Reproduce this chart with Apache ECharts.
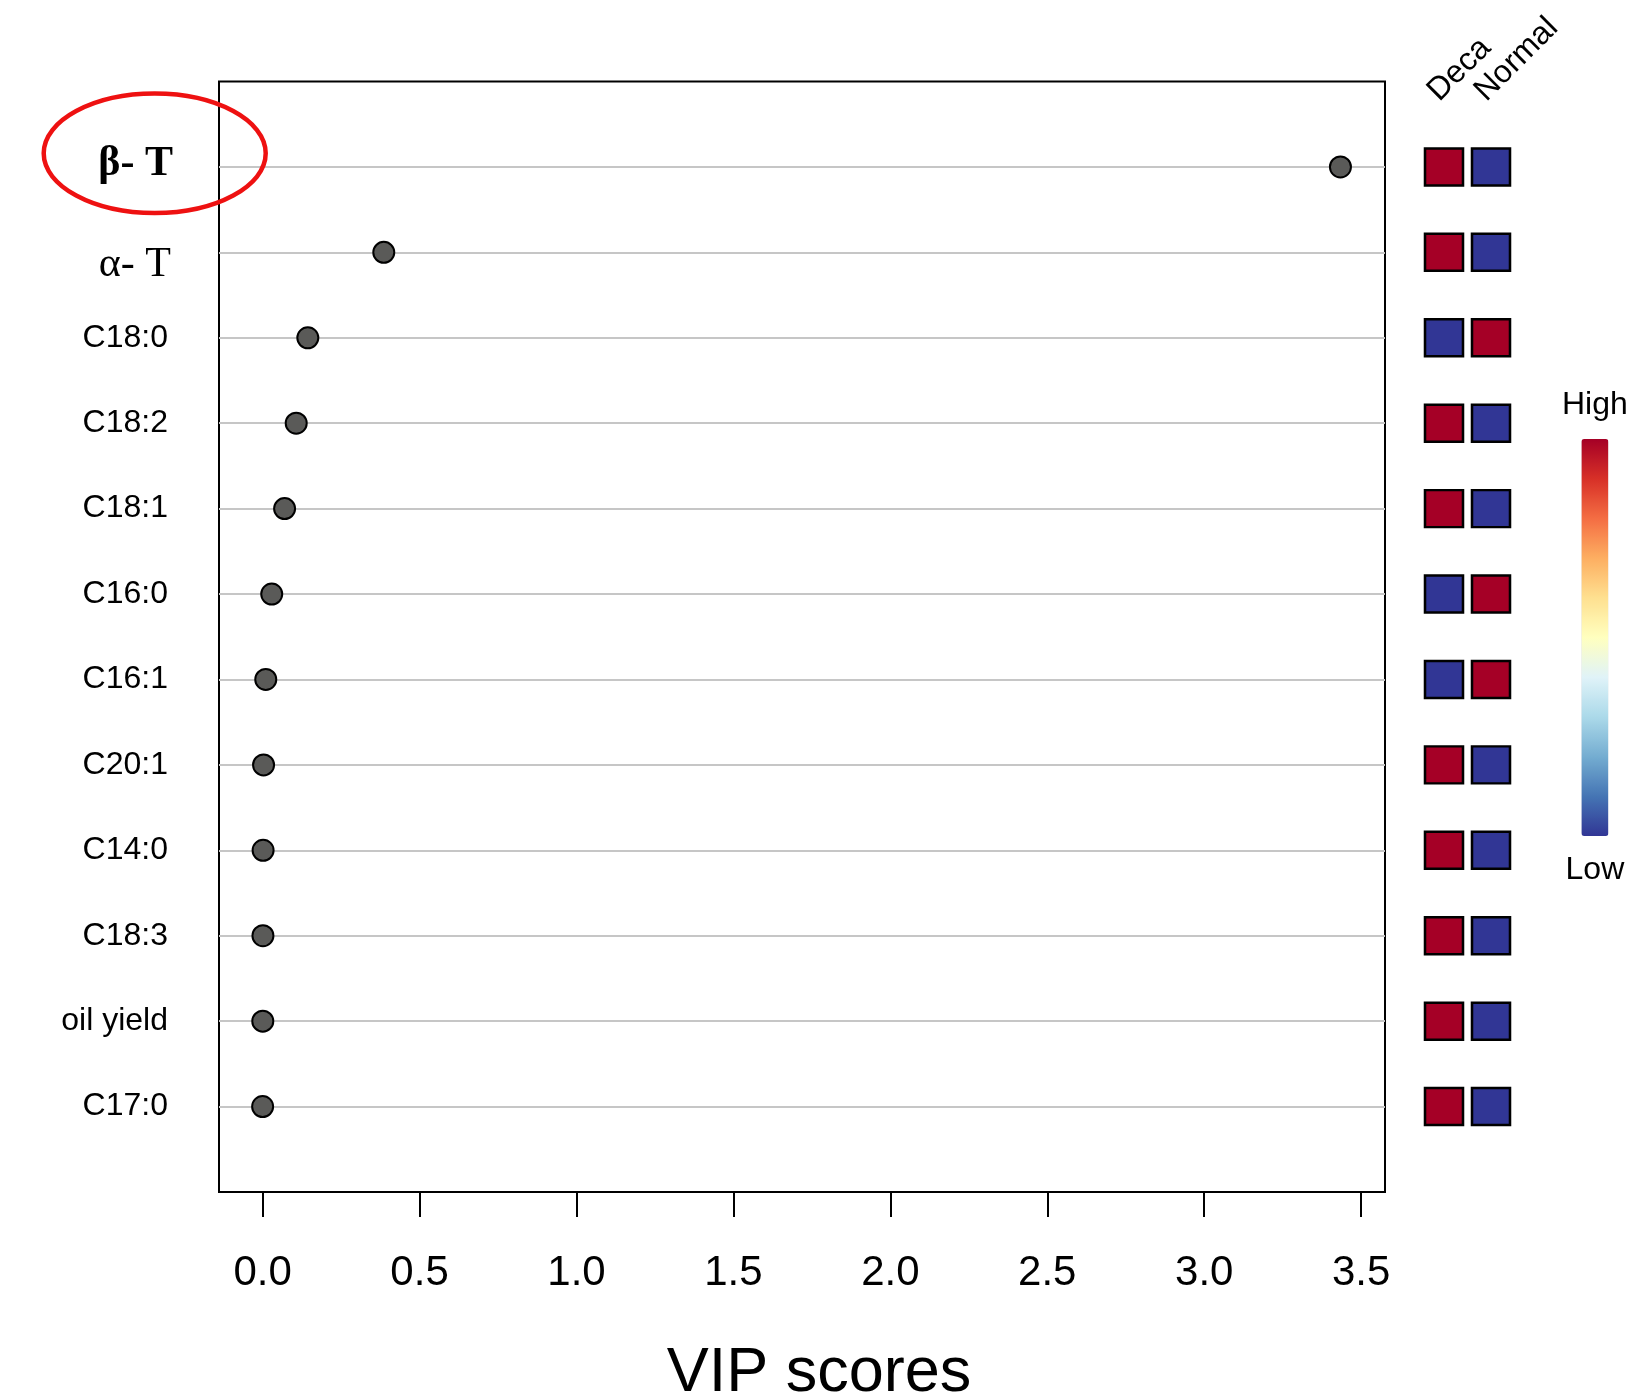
<!DOCTYPE html>
<html><head><meta charset="utf-8">
<script src="https://cdn.jsdelivr.net/npm/echarts@6/dist/echarts.min.js"></script>
<style>html,body{margin:0;padding:0;background:#fff}#c{width:1638px;height:1400px}</style>
</head><body><div id="c"></div>
<script>
const features = ['β- T','α- T','C18:0','C18:2','C18:1','C16:0','C16:1','C20:1','C14:0','C18:3','oil yield','C17:0'];
const vipScores = [3.434, 0.386, 0.144, 0.107, 0.070, 0.029, 0.010, 0.003, 0.0015, 0.001, 0.0005, 0.0];
const groups = ['Deca','Normal'];
const decaLevel =   [1,1,0,1,1,0,0,1,1,1,1,1];
const normalLevel = [0,0,1,0,0,1,1,0,0,0,0,0];
const xTicks = [0,0.5,1,1.5,2,2.5,3,3.5];
const colorScale = ['#313695','#4575b4','#74add1','#abd9e9','#e0f3f8','#ffffbf','#fee090','#fdae61','#f46d43','#d73027','#a50026'];

const rowIdx = features.map((f,i)=>i+1);
const dotData = vipScores.map((v,i)=>[v, i+1]);
const heatData = [];
features.forEach((f,i)=>{ heatData.push([0, i+1, decaLevel[i]]); heatData.push([1, i+1, normalLevel[i]]); });

const SANS = 'Liberation Sans';
const chart = echarts.init(document.getElementById('c'), null, {renderer:'canvas'});
chart.setOption({
  backgroundColor:'#fff',
  animation:false,
  grid:[
    {left:219, top:81.5, width:1166, height:1110.5, show:true, borderColor:'#000', borderWidth:2, backgroundColor:'transparent', containLabel:false, outerBoundsMode:'none'},
    {left:1420.5, top:81.5, width:94, height:1110.5, containLabel:false, outerBoundsMode:'none'},
    {left:1409.5, top:96, width:94, height:1096, containLabel:false, outerBoundsMode:'none'}
  ],
  xAxis:[
    {type:'value', gridIndex:0, min:-0.139, max:3.576, position:'bottom',
     axisLine:{show:false, onZero:false},
     axisTick:{show:true, customValues:xTicks, length:25, lineStyle:{color:'#000', width:2}},
     axisLabel:{show:true, customValues:xTicks, formatter:v=>v.toFixed(1), fontSize:42, fontFamily:SANS, color:'#000', margin:60},
     splitLine:{show:false},
     name:'VIP scores', nameLocation:'middle', nameGap:150,
     nameTextStyle:{fontSize:63, fontFamily:SANS, color:'#000', padding:[0,0,0,34]}
    },
    {type:'category', gridIndex:1, data:groups, show:false, boundaryGap:true},
    {type:'category', gridIndex:2, data:groups, position:'top', boundaryGap:true,
     axisLine:{show:false}, axisTick:{show:false}, splitLine:{show:false},
     axisLabel:{rotate:45, fontSize:32, fontFamily:SANS, color:'#000', margin:0, interval:0}}
  ],
  yAxis:[
    {type:'value', gridIndex:0, min:0, max:13, interval:1, inverse:true,
     axisLine:{show:false, onZero:false}, axisTick:{show:false},
     splitLine:{show:true, showMinLine:false, showMaxLine:false, lineStyle:{color:'#c6c6c6', width:2}},
     axisLabel:{show:true, customValues:rowIdx, margin:46, color:'#000',
       formatter:v=>{ const s = features[v-1]; if(!s) return ''; if(v===1) return '{b|'+s+'}'; if(v===2) return '{a|'+s+'}'; return '{g|'+s+'}'; },
       rich:{
         g:{fontSize:32, fontFamily:SANS, color:'#000', padding:[0,5,0,0]},
         b:{fontSize:42, fontFamily:'Liberation Serif', fontWeight:'bold', color:'#000', padding:[0,0,5,0]},
         a:{fontSize:42, fontFamily:'Liberation Serif', color:'#000', padding:[25,2,0,0]}
       }}
    },
    {type:'value', gridIndex:1, min:0, max:13, inverse:true, show:false},
    {type:'value', gridIndex:2, min:0, max:13, inverse:true, show:false}
  ],
  visualMap:{
    type:'continuous', seriesIndex:1, dimension:2, min:0, max:1, calculable:false,
    inRange:{color:colorScale}, orient:'vertical', left:1547, top:374,
    itemWidth:27, itemHeight:397, text:['High','Low'], textGap:18,
    textStyle:{fontSize:32, fontFamily:SANS, color:'#000'}, hoverLink:false
  },
  series:[
    {type:'scatter', xAxisIndex:0, yAxisIndex:0, data:dotData, symbol:'circle', symbolSize:21,
     itemStyle:{color:'#5a5a58', borderColor:'#000', borderWidth:2, opacity:1}, z:5, silent:true},
    {type:'scatter', xAxisIndex:1, yAxisIndex:1, data:heatData, symbol:'rect', symbolSize:[38,37],
     itemStyle:{borderColor:'#000', borderWidth:2.5, opacity:1}, silent:true}
  ],
  graphic:[
    {type:'ellipse', shape:{cx:154.7, cy:153.3, rx:111, ry:59.7}, style:{fill:null, stroke:'#ee1111', lineWidth:4.5}, z:100, silent:true}
  ]
});
</script></body></html>
